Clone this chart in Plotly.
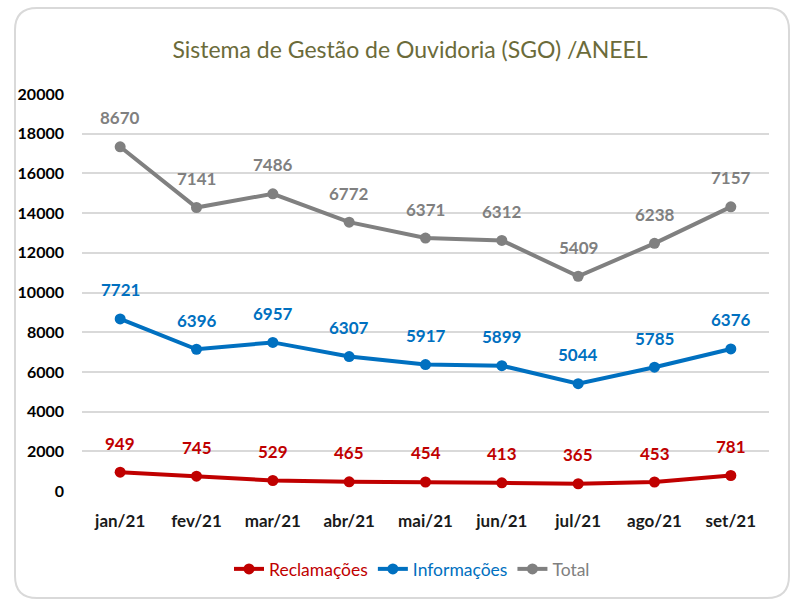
import numpy as np
import plotly.graph_objects as go

months = ["jan/21", "fev/21", "mar/21", "abr/21", "mai/21", "jun/21", "jul/21", "ago/21", "set/21"]
reclamacoes = [949, 745, 529, 465, 454, 413, 365, 453, 781]
informacoes = [7721, 6396, 6957, 6307, 5917, 5899, 5044, 5785, 6376]
total = [8670, 7141, 7486, 6772, 6371, 6312, 5409, 6238, 7157]

series = [
    ("Reclamações", reclamacoes, "#C00000"),
    ("Informações", informacoes, "#0070C0"),
    ("Total", total, "#808080"),
]

W, H = 792, 601
ML, MR, MT, MB = 82, 23, 94, 110
PW, PH = W - ML - MR, H - MT - MB

def px_x(p):
    return (p - ML) / PW

def px_y(p):
    return (H - MB - p) / PH

FONT = "Lato, Roboto, Arial"

fig = go.Figure()
cum = np.zeros(len(months))
annotations = []
for name, vals, color in series:
    fig.add_trace(go.Scatter(
        x=months, y=vals, stackgroup="one", fill="none",
        mode="lines+markers",
        name=f'<span style="color:{color}">{name}</span>',
        line=dict(color=color, width=4),
        marker=dict(color=color, size=11),
    ))
    cum = cum + np.array(vals)
    for m, v, c in zip(months, vals, cum):
        annotations.append(dict(
            x=m, y=c, xref="x", yref="y", text=f"<b>{v}</b>", showarrow=False,
            yshift=29, font=dict(family=FONT, size=17, color=color),
        ))

# Rounded border box (pixel positions converted to paper coords)
x0, x1, y0, y1, r = px_x(15), px_x(789), px_y(8), px_y(598), 22
rx, ry = r / PW, r / PH
path = (f"M {x0+rx},{y0} L {x1-rx},{y0} Q {x1},{y0} {x1},{y0-ry} "
        f"L {x1},{y1+ry} Q {x1},{y1} {x1-rx},{y1} L {x0+rx},{y1} "
        f"Q {x0},{y1} {x0},{y1+ry} L {x0},{y0-ry} Q {x0},{y0} {x0+rx},{y0} Z")

fig.update_layout(
    width=W, height=H,
    margin=dict(l=ML, r=MR, t=MT, b=MB),
    paper_bgcolor="white", plot_bgcolor="white",
    title=dict(text="Sistema de Gestão de Ouvidoria (SGO) /ANEEL",
               x=px_x(410), xref="paper", xanchor="center",
               y=1 - 50 / H, yanchor="middle",
               font=dict(family=FONT, size=23, color="#6B6B3A")),
    xaxis=dict(type="category", range=[-0.5, 8.5], showgrid=False,
               showline=False, ticks="", ticklabelstandoff=18,
               tickfont=dict(family=FONT, size=17, color="#1a1a1a", weight="bold")),
    yaxis=dict(range=[0, 20000], dtick=2000, tickformat="d", showgrid=True,
               gridcolor="#D9D9D9", gridwidth=1.5, zeroline=False,
               showline=False, ticks="", ticklabelstandoff=17,
               tickfont=dict(family=FONT, size=16, color="#000000", weight="bold")),
    legend=dict(orientation="h", x=px_x(412), xanchor="center",
                y=px_y(569), yanchor="middle",
                font=dict(family=FONT, size=17.5)),
    showlegend=True,
    annotations=annotations,
    shapes=[dict(type="path", path=path, xref="paper", yref="paper",
                 line=dict(color="#D9D9D9", width=2), layer="below")],
)

fig.write_html("out.html", config={"displayModeBar": False},
               post_script="document.body.style.margin='0';")
